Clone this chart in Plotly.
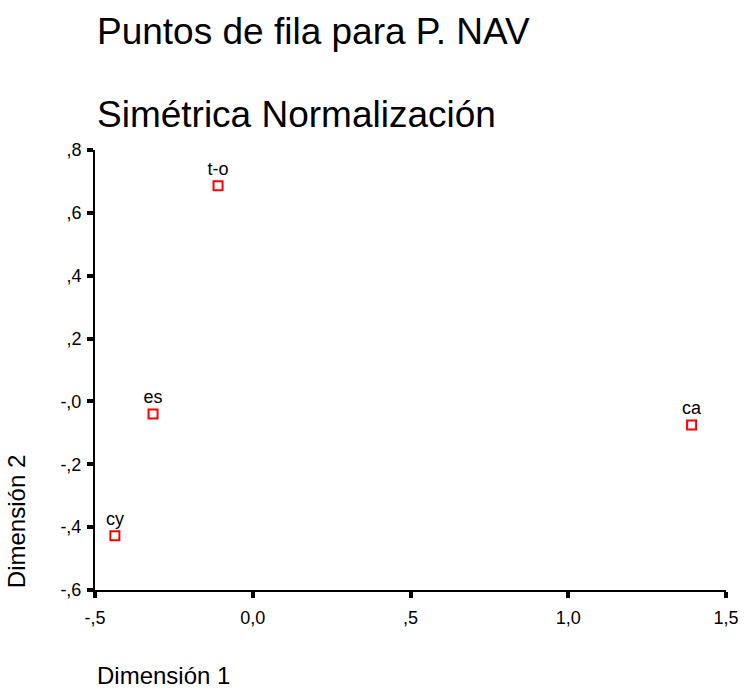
import plotly.graph_objects as go

# puntos de fila (coordenadas en dimensión 1 y 2)
labels = ["t-o", "es", "cy", "ca"]
dim1 = [-0.11, -0.316, -0.437, 1.391]
dim2 = [0.686, -0.04, -0.427, -0.075]

x_ticks = [-0.5, 0.0, 0.5, 1.0, 1.5]
x_ticktext = ["-,5", "0,0", ",5", "1,0", "1,5"]
y_ticks = [0.8, 0.6, 0.4, 0.2, 0.0, -0.2, -0.4, -0.6]
y_ticktext = [",8", ",6", ",4", ",2", "-,0", "-,2", "-,4", "-,6"]

FONT = "Liberation Sans, Arial, sans-serif"

fig = go.Figure(
    go.Scatter(
        x=dim1,
        y=dim2,
        mode="markers+text",
        text=labels,
        textposition="top center",
        textfont=dict(size=18, color="black", family=FONT),
        marker=dict(symbol="square-open", size=9, color="red", line=dict(width=2, color="red")),
        showlegend=False,
        cliponaxis=False,
    )
)

axis_common = dict(
    showgrid=False,
    zeroline=False,
    showline=True,
    linecolor="black",
    linewidth=2,
    ticks="outside",
    ticklen=6,
    tickwidth=4,
    tickcolor="black",
    tickfont=dict(size=18, color="black", family=FONT),
    automargin=False,
)

fig.update_xaxes(range=[-0.5, 1.5], tickvals=x_ticks, ticktext=x_ticktext,
                 ticklabelstandoff=4, **axis_common)
fig.update_yaxes(range=[-0.6, 0.8], tickvals=y_ticks, ticktext=y_ticktext,
                 ticklabelstandoff=2, **axis_common)

fig.update_layout(
    width=744,
    height=688,
    margin=dict(l=95, r=18, t=150, b=98),
    plot_bgcolor="white",
    paper_bgcolor="white",
    font=dict(family=FONT, color="black"),
    annotations=[
        dict(text="Puntos de fila para P. NAV", xref="paper", yref="paper", x=0.0, y=1.269,
             xanchor="left", yanchor="middle", showarrow=False, font=dict(size=37)),
        dict(text="Simétrica Normalización", xref="paper", yref="paper", x=0.0, y=1.0807,
             xanchor="left", yanchor="middle", showarrow=False, font=dict(size=37)),
        dict(text="Dimensión 1", xref="paper", yref="paper", x=0.0, y=-0.195,
             xanchor="left", yanchor="middle", showarrow=False, font=dict(size=24)),
        dict(text="Dimensión 2", xref="paper", yref="paper", x=-0.125, y=0.1545,
             xanchor="center", yanchor="middle", showarrow=False, textangle=-90,
             font=dict(size=24)),
    ],
)

fig.write_html("out.html", config={"displayModeBar": False},
               post_script="document.body.style.margin='0';")
